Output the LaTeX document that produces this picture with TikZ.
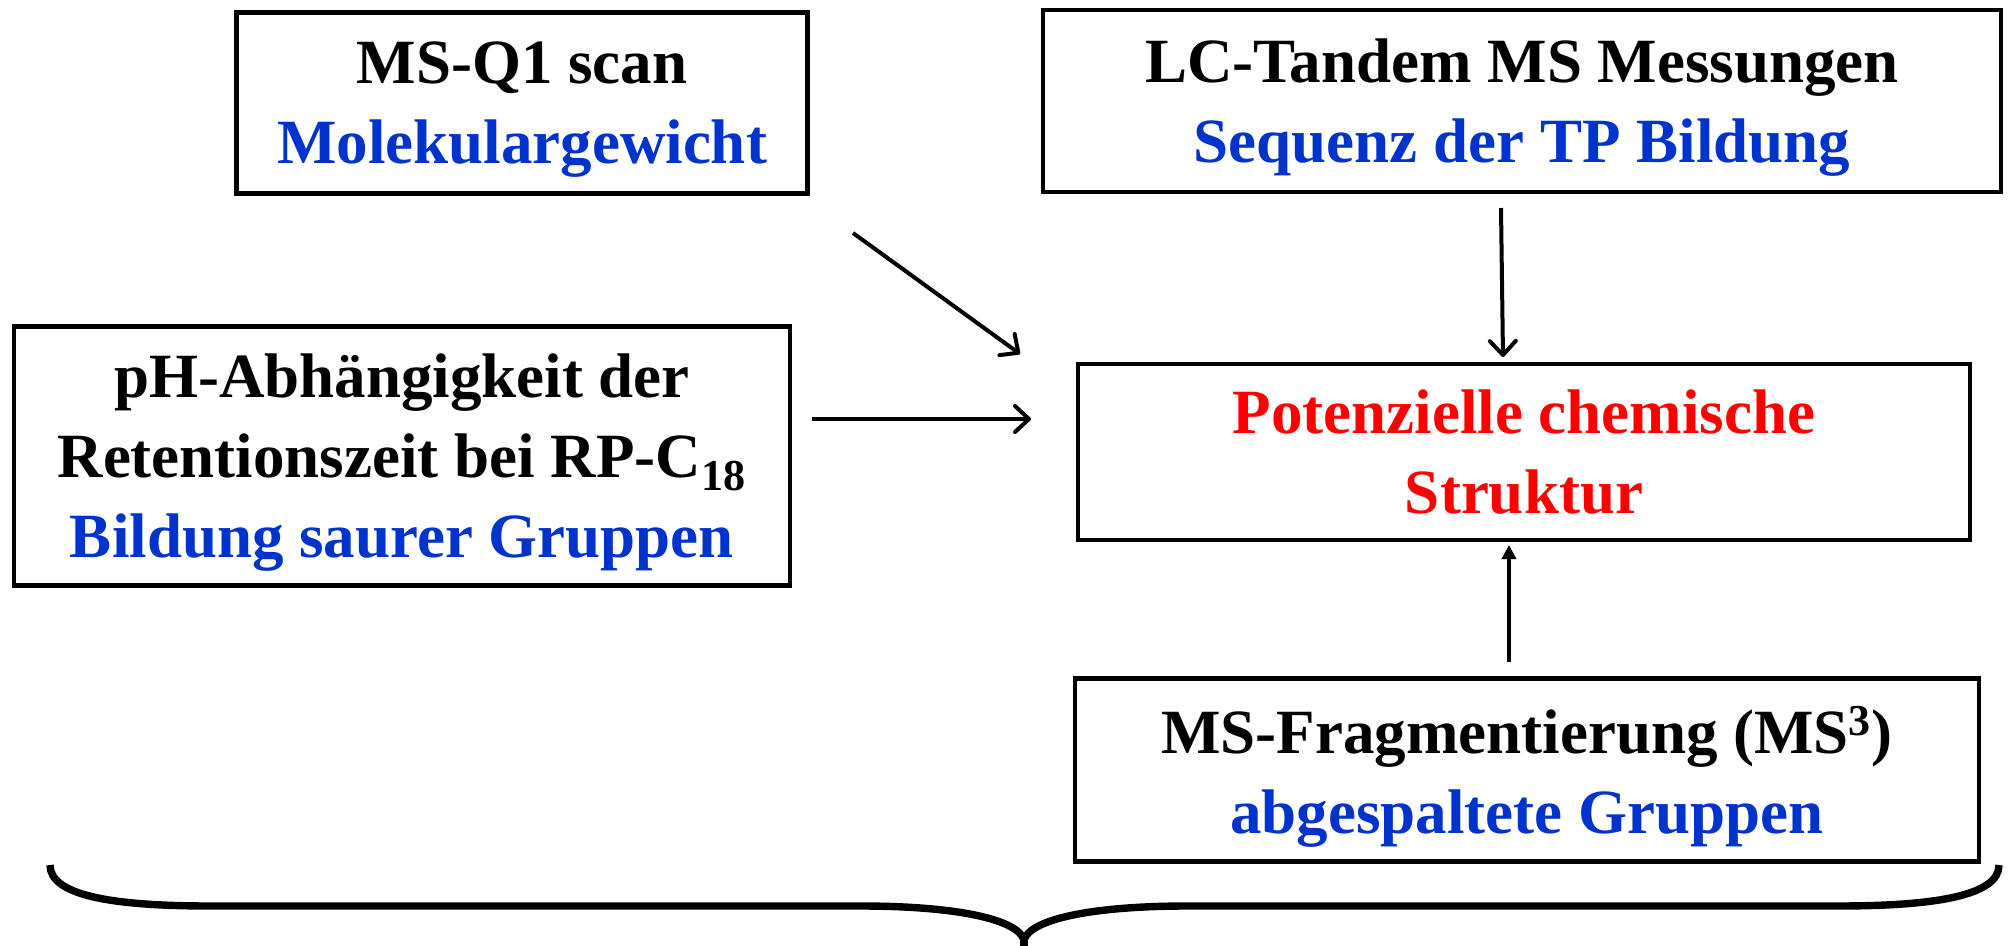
\documentclass[tikz,border=0pt]{standalone}
\usepackage{fontspec}
\setmainfont{Liberation Serif}
\usepackage{xcolor}
\usetikzlibrary{arrows.meta}

\definecolor{txtblue}{RGB}{0,51,204}
\definecolor{txtred}{RGB}{255,0,0}

\tikzset{
  box/.style={draw, line width=2.4pt, align=center, inner sep=0pt, text depth=0pt,
    font=\bfseries\fontsize{31.5}{40}\selectfont},
  arr/.style={line width=2pt, -{Straight Barb[length=7pt,width=13pt,round]}},
  arrt/.style={line width=2pt, -{Triangle[length=7pt,width=7pt]}},
  brace/.style={line width=3.7pt}
}

\begin{document}
\begin{tikzpicture}[x=0.5pt,y=-0.5pt]
    \useasboundingbox (0,0) rectangle (2008,946);

    \node[box, minimum width=285.5pt, minimum height=90.5pt] (q1) at (522,103)
      {MS-Q1 scan\\\textcolor{txtblue}{Molekulargewicht}};
    \node[box, minimum width=479pt, minimum height=91pt] (lc) at (1522,101)
      {LC-Tandem MS Messungen\\\textcolor{txtblue}{Sequenz der TP Bildung}};
    \node[box, minimum width=388pt, minimum height=129.5pt] (ph) at (402,456)
      {pH-Abhängigkeit der\\Retentionszeit bei RP-C\textsubscript{18}\\\textcolor{txtblue}{Bildung saurer Gruppen}};
    \node[box, minimum width=446pt, minimum height=88pt, text=txtred] (pot) at (1524,452)
      {Potenzielle chemische\\Struktur};
    \node[box, minimum width=452pt, minimum height=91.5pt] (frag) at (1527,770)
      {MS-Fragmentierung (MS\textsuperscript{3})\\\textcolor{txtblue}{abgespaltete Gruppen}};

    % free ends of the arrows
    \coordinate (q1out) at (853,233);
    \coordinate (potnw) at (1020,354);
    \coordinate (phout) at (812,419);
    \coordinate (potw) at (1031,419);
    \coordinate (lcout) at (1501,208);
    \coordinate (potn) at (1503,357);
    \coordinate (fragout) at (1509,662);
    \coordinate (pots) at (1509,545);

    \draw[arr] (q1out) to (potnw);
    \draw[arr] (phout) to (potw);
    \draw[arr] (lcout) to (potn);
    \draw[arrt] (fragout) to (pots);

    % brace under everything
    \draw[brace] (50,865) .. controls (50,895) and (110,906) .. (210,906)
      -- (860,906) .. controls (960,906) and (1018,920) .. (1024,940)
      .. controls (1030,920) and (1088,906) .. (1188,906)
      -- (1838,906) .. controls (1938,906) and (1999,895) .. (1999,865);
    \draw[brace] (1024,938) -- (1024,952);
\end{tikzpicture}
\end{document}
